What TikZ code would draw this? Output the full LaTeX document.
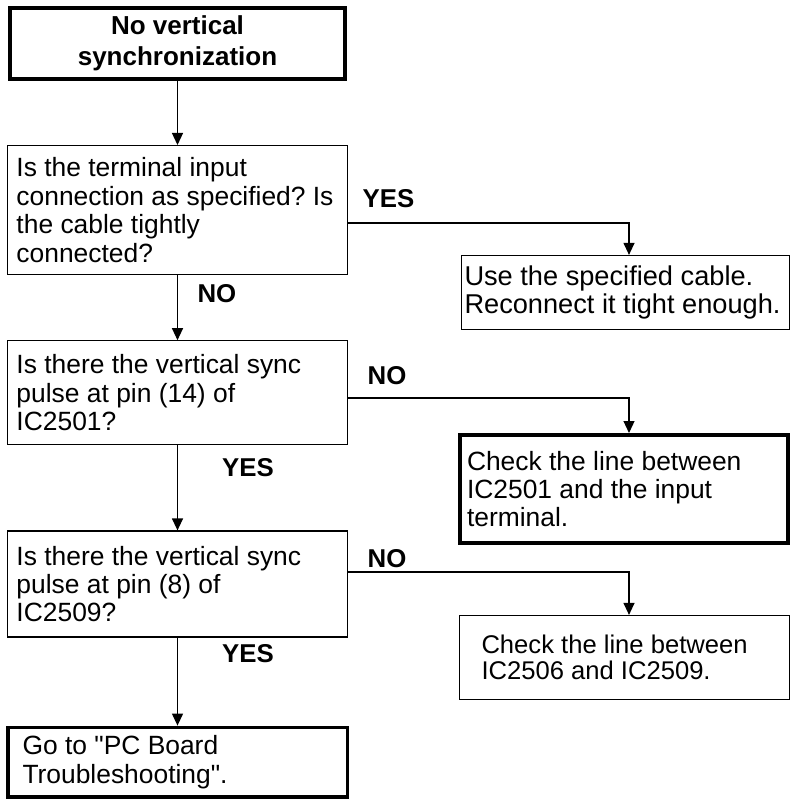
\documentclass[tikz,border=0pt]{standalone}
\usepackage{fontspec}
\setmainfont{Liberation Sans}
\usetikzlibrary{positioning,arrows.meta,calc}
\frenchspacing

\begin{document}
\begin{tikzpicture}[
  x=0.5pt, y=-0.5pt,
  box/.style={draw, line width=0.6pt, align=flush left, inner ysep=0pt,
              font=\fontsize{13.2}{14.2}\selectfont},
  question/.style={box, text width=161pt, inner xsep=4.5pt,
                   minimum width=170pt},
  thickbox/.style={line width=1.8pt},
  lbl/.style={font=\fontsize{12.9}{14}\selectfont\bfseries, inner sep=0pt},
  arr/.style={->, line width=0.6pt},
  >={Triangle[length=6pt,width=5.5pt]}
]
  \useasboundingbox (0,0) rectangle (791,802);

  % Symptom
  \node[box, thickbox, align=flush center, minimum width=167.7pt,
        minimum height=35.7pt,
        font=\fontsize{13}{15.5}\selectfont\bfseries] (start) at (177.5,43.5)
    {No vertical\\synchronization};

  % Checks down the left column
  \node[question, minimum height=64.5pt, below=32pt of start] (q1)
    {Is the terminal input\\
     connection as specified? Is\\
     the cable tightly\\
     connected?};

  \node[question, minimum height=52pt, below=32.5pt of q1] (q2)
    {Is there the vertical sync\\
     pulse at pin (14) of\\
     IC2501?};

  \node[question, minimum height=53pt, below=42.5pt of q2] (q3)
    {Is there the vertical sync\\
     pulse at pin (8) of\\
     IC2509?};

  \node[box, thickbox, text width=155pt, inner xsep=7.4pt,
        minimum width=169.7pt, minimum height=34.7pt,
        below=44pt of q3] (pcb)
    {Go to \textquotedbl PC Board\\
     Troubleshooting\textquotedbl.};

  % Remedies on the right
  \node[box, text width=161pt, inner xsep=1.5pt, minimum width=164pt,
        minimum height=37pt, font=\fontsize{13.6}{14.2}\selectfont]
    (cable) at (625.5,292.5)
    {Use the specified cable.\\
     Reconnect it tight enough.};

  \node[box, thickbox, text width=157pt, inner xsep=3.6pt,
        minimum width=164.2pt, minimum height=54.2pt]
    (line1) at (624,489)
    {Check the line between\\
     IC2501 and the input\\
     terminal.};

  \node[box, text width=143pt, inner xsep=11pt, minimum width=165pt,
        minimum height=42pt, font=\fontsize{12.8}{12.8}\selectfont]
    (line2) at (624.5,657.5)
    {Check the line between\\
     IC2506 and IC2509.};

  % Flow
  \draw[arr] (start.south) -- (q1.north);

  \draw[arr] (q1.east |- 0,223)
    node[lbl, above right=7.5pt and 7pt] (yes1) {YES}
    -| (cable.north -| 629,0);
  \draw[arr] (q1.south) -- node[lbl, right=9.75pt, pos=0.28] (no1) {NO}
    (q2.north);

  \draw[arr] (q2.east |- 0,398)
    node[lbl, above right=6.5pt and 9.5pt] (no2) {NO}
    -| (line1.north -| 629,0);
  \draw[arr] (q2.south) -- node[lbl, right=22pt, pos=0.26] (yes2) {YES}
    (q3.north);

  \draw[arr] (q3.east |- 0,572)
    node[lbl, above right=2pt and 9.5pt] (no3) {NO}
    -| (line2.north -| 629,0);
  \draw[arr] (q3.south) -- node[lbl, right=22pt, pos=0.18] (yes3) {YES}
    (pcb.north);
\end{tikzpicture}
\end{document}
